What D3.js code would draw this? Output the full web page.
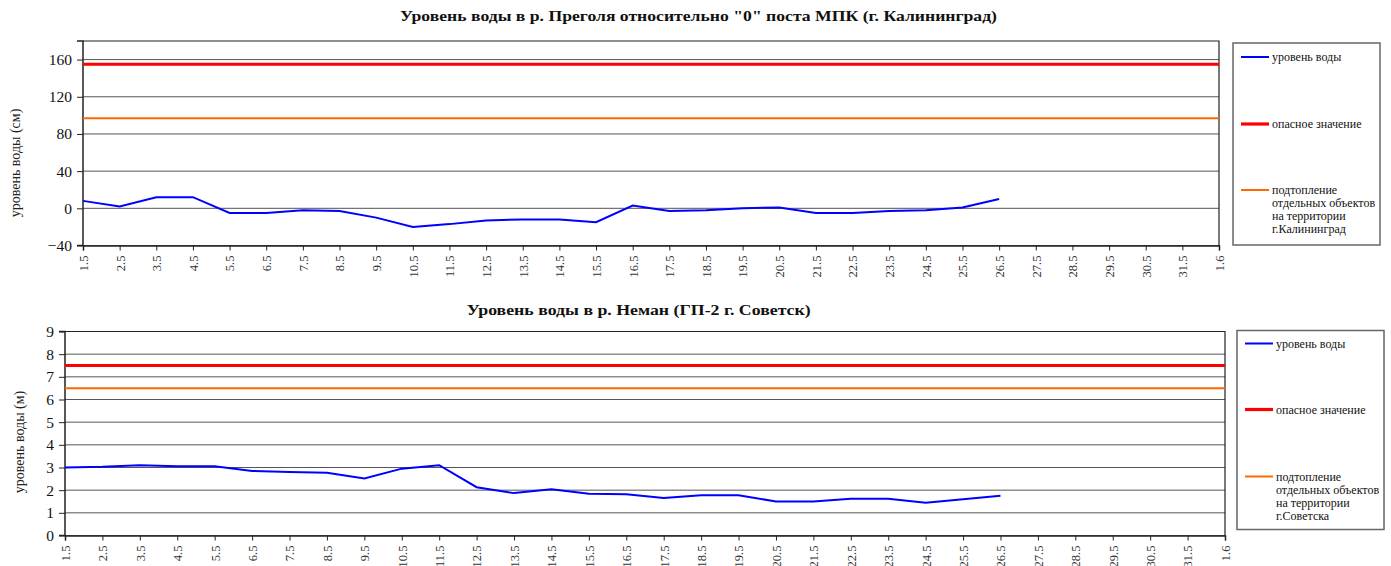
<!DOCTYPE html>
<html>
<head>
<meta charset="utf-8">
<script src="https://cdn.jsdelivr.net/npm/d3@7/dist/d3.min.js"></script>
<style>
  body { margin: 0; background: #fff; }
  svg text { font-family: "Liberation Serif", "Times New Roman", "DejaVu Serif", serif; }
</style>
</head>
<body>
<script>
// dates on the x axis (May 1..31, June 1)
const dates = ['1.5', '2.5', '3.5', '4.5', '5.5', '6.5', '7.5', '8.5', '9.5', '10.5', '11.5', '12.5', '13.5', '14.5', '15.5',
  '16.5', '17.5', '18.5', '19.5', '20.5', '21.5', '22.5', '23.5', '24.5', '25.5', '26.5', '27.5', '28.5', '29.5', '30.5', '31.5', '1.6']

// Pregolya, cm relative to "0"
const pregolyaLevel = [8, 2, 12, 12, -5, -5, -2, -3, -10, -20, -17, -13, -12, -12, -15, 3, -3, -2, 0, 1, -5, -5, -3, -2, 1, 10]
const pregolyaDanger = 155
const pregolyaFlood = 97
const pregolyaTicks = [-40, 0, 40, 80, 120, 160]

// Neman, m
const nemanLevel = [3.0, 3.03, 3.1, 3.06, 3.05, 2.85, 2.8, 2.77, 2.52, 2.95, 3.1, 2.13, 1.87, 2.04, 1.84, 1.82, 1.66, 1.78, 1.78, 1.5, 1.5, 1.62, 1.62, 1.45, 1.6, 1.75]
const nemanDanger = 7.5
const nemanFlood = 6.5
const nemanTicks = [0, 1, 2, 3, 4, 5, 6, 7, 8, 9]

const W = 1391, H = 566
const svg = d3.create('svg').attr('width', W).attr('height', H)

function panel(o) {
  const g = svg.append('g')
  const x = d3.scalePoint().domain(dates).range([o.left, o.right])
  const y = d3.scaleLinear().domain(o.domain).range([o.bottom, o.top])

  // title
  g.append('text')
    .attr('x', o.titleX).attr('y', o.titleY)
    .attr('text-anchor', 'middle')
    .attr('font-weight', 'bold').attr('font-size', 15.5)
    .attr('textLength', o.titleW).attr('lengthAdjust', 'spacingAndGlyphs')
    .attr('fill', '#111')
    .text(o.title)

  // grid
  g.selectAll('line.grid').data(o.ticks).join('line')
    .attr('x1', o.left).attr('x2', o.right)
    .attr('y1', d => y(d)).attr('y2', d => y(d))
    .attr('stroke', '#555').attr('stroke-width', 1)

  // frame top + right
  g.append('path')
    .attr('d', `M${o.left},${o.top}H${o.right}V${o.bottom}`)
    .attr('fill', 'none').attr('stroke', '#222').attr('stroke-width', 1.2)

  // y axis
  const ya = g.append('g').attr('transform', `translate(${o.left},0)`)
    .call(d3.axisLeft(y).tickValues(o.ticks).tickSize(6).tickFormat(d3.format('d')))
  ya.select('.domain').attr('stroke', '#222').attr('stroke-width', 1.5).attr('d', `M-6,${o.top}H0V${o.bottom}H-6`)
  ya.selectAll('.tick line').attr('stroke', '#222')
  ya.selectAll('.tick text').attr('font-size', 15.5).attr('fill', '#111').attr('x', -11)

  // x axis
  const xa = g.append('g').attr('transform', `translate(0,${o.bottom})`)
    .call(d3.axisBottom(x).tickSize(5))
  xa.select('.domain').attr('stroke', '#222').attr('stroke-width', 1.5)
  xa.selectAll('.tick line').attr('stroke', '#222')
  xa.selectAll('.tick text')
    .attr('font-size', 12.5).attr('fill', '#333')
    .attr('transform', 'rotate(-90)')
    .attr('text-anchor', 'end').attr('x', -10).attr('y', 0).attr('dy', '0.35em')

  // y label
  g.append('text')
    .attr('transform', `translate(${o.ylabX},${o.ylabY}) rotate(-90)`)
    .attr('text-anchor', 'middle').attr('font-size', 14).attr('fill', '#222')
    .text(o.ylabel)

  // series
  const line = d3.line().x(d => x(d[0])).y(d => y(d[1]))
  const flat = v => dates.map(d => [d, v])
  g.append('path').datum(flat(o.flood)).attr('d', line).attr('fill', 'none').attr('stroke', '#FF6A00').attr('stroke-width', 2)
  g.append('path').datum(flat(o.danger)).attr('d', line).attr('fill', 'none').attr('stroke', '#FF0000').attr('stroke-width', 3.2)
  g.append('path').datum(o.level.map((v, i) => [dates[i], v])).attr('d', line)
    .attr('fill', 'none').attr('stroke', '#0000FF').attr('stroke-width', 2)

  // legend
  const lg = g.append('g')
  lg.append('rect').attr('x', o.lx).attr('y', o.ly).attr('width', o.lw).attr('height', o.lh)
    .attr('fill', '#fff').attr('stroke', '#666').attr('stroke-width', 1.5)
  const items = [
    { c: '#0000FF', w: 2, lines: ['уровень воды'] },
    { c: '#FF0000', w: 3.2, lines: ['опасное значение'] },
    { c: '#FF6A00', w: 2, lines: ['подтопление', 'отдельных объектов', 'на территории', o.city] }
  ]
  items.forEach((it, i) => {
    const yy = o.ly + o.legY[i]
    lg.append('line').attr('x1', o.lx + 8).attr('x2', o.lx + 36).attr('y1', yy).attr('y2', yy)
      .attr('stroke', it.c).attr('stroke-width', it.w)
    const t = lg.append('text').attr('x', o.lx + 39).attr('y', yy).attr('font-size', 12).attr('fill', '#111')
    it.lines.forEach((s, j) => t.append('tspan').attr('x', o.lx + 39).attr('y', yy + j * 13).attr('dy', '0.35em').text(s))
  })
}

panel({
  title: 'Уровень воды в р. Преголя относительно "0" поста МПК (г. Калининград)',
  titleX: 698.5, titleY: 21, titleW: 597,
  left: 83, right: 1219, top: 41, bottom: 245.5,
  domain: [-40, 180], ticks: pregolyaTicks,
  level: pregolyaLevel, danger: pregolyaDanger, flood: pregolyaFlood,
  ylabel: 'уровень воды (см)', ylabX: 20, ylabY: 163,
  lx: 1233, ly: 43, lw: 147, lh: 202, legY: [14, 81, 147],
  city: 'г.Калининград'
})

panel({
  title: 'Уровень воды в р. Неман (ГП-2 г. Советск)',
  titleX: 638.7, titleY: 315, titleW: 344,
  left: 65, right: 1225, top: 331.5, bottom: 535.5,
  domain: [0, 9], ticks: nemanTicks,
  level: nemanLevel, danger: nemanDanger, flood: nemanFlood,
  ylabel: 'уровень воды (м)', ylabX: 24, ylabY: 442,
  lx: 1237, ly: 330.5, lw: 147, lh: 199, legY: [13, 79, 146],
  city: 'г.Советска'
})

document.body.appendChild(svg.node())
</script>
</body>
</html>
